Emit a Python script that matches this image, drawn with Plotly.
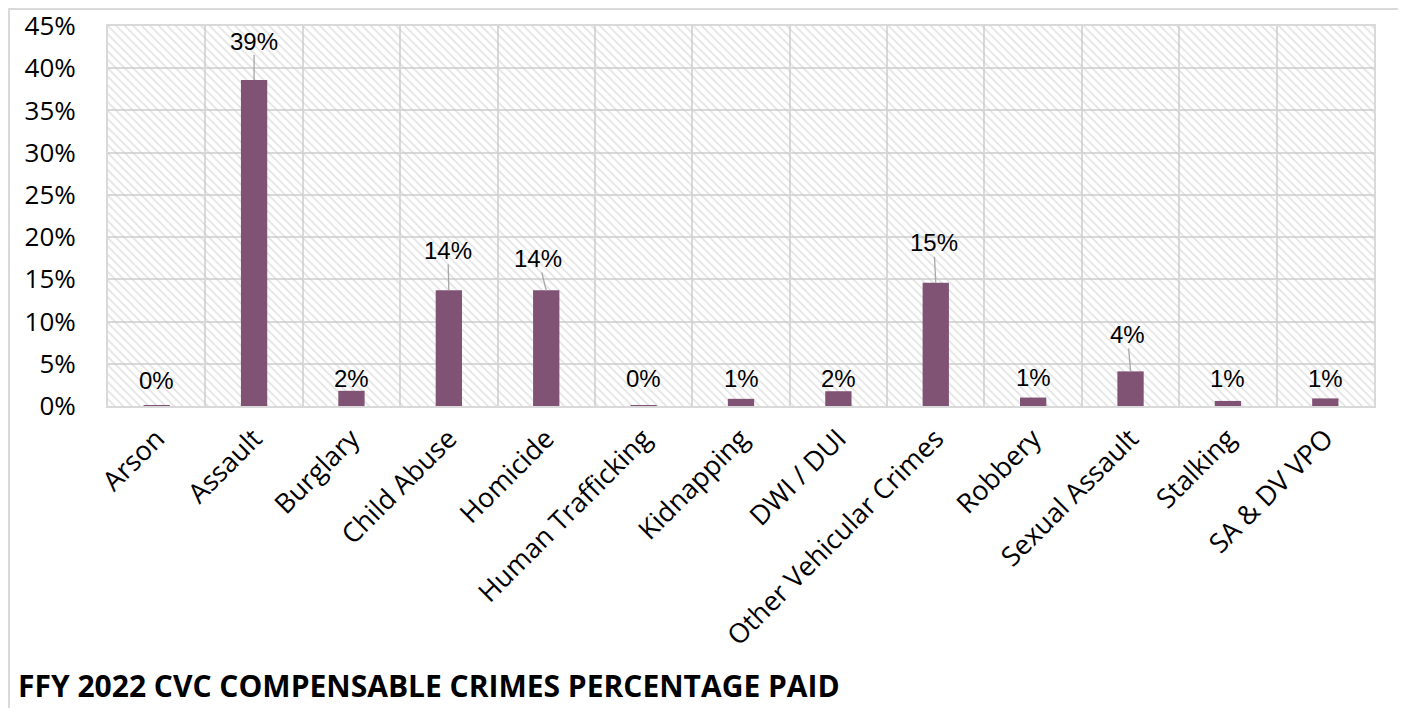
import plotly.graph_objects as go

categories = ["Arson", "Assault", "Burglary", "Child Abuse", "Homicide",
              "Human Trafficking", "Kidnapping", "DWI / DUI",
              "Other Vehicular Crimes", "Robbery", "Sexual Assault",
              "Stalking", "SA & DV VPO"]
percent_paid = [0.1, 38.6, 1.8, 13.7, 13.7, 0.02, 0.85, 1.75, 14.6, 1.0, 4.1, 0.6, 0.9]
y_ticks = [0, 5, 10, 15, 20, 25, 30, 35, 40, 45]

Y_MAX = y_ticks[-1]
BAR_COLOR = "#805274"
GRID = "#d9d9d9"
LABEL_FONT = dict(family="Liberation Sans", size=24, color="#000000")

# label placement (pixel offsets of label centre from bar top); True = leader line
label_style = {
    "Arson": (0, -25, False),
    "Assault": (0, -39, True),
    "Burglary": (0, -12, False),
    "Child Abuse": (-1, -40, True),
    "Homicide": (-8, -32, True),
    "Human Trafficking": (0, -27, False),
    "Kidnapping": (0, -20, False),
    "DWI / DUI": (0, -13, False),
    "Other Vehicular Crimes": (-2, -40, True),
    "Robbery": (0, -20, False),
    "Sexual Assault": (-3, -37, True),
    "Stalking": (0, -22, False),
    "SA & DV VPO": (0, -20, False),
}

fig = go.Figure()

# hatched plot background
fig.add_trace(go.Bar(
    x=categories, y=[Y_MAX] * len(categories), width=1.0,
    marker=dict(color="rgba(0,0,0,0)", line=dict(width=0),
                pattern=dict(shape="\\", fgcolor="#c8c8c8", bgcolor="rgba(0,0,0,0)",
                             size=6, solidity=0.3, fillmode="overlay")),
    hoverinfo="skip", showlegend=False,
))

fig.add_trace(go.Bar(
    x=categories, y=percent_paid, width=0.27,
    marker=dict(color=BAR_COLOR, line=dict(width=0)),
    showlegend=False,
))

for cat, v in zip(categories, percent_paid):
    dx, dy, leader = label_style[cat]
    txt = f"{round(v)}%"
    if leader:
        fig.add_annotation(x=cat, y=v, xref="x", yref="y", text=txt,
                           showarrow=True, arrowhead=0, arrowwidth=1.3,
                           arrowcolor="#a6a6a6", ax=dx, ay=dy, standoff=0,
                           font=LABEL_FONT, borderpad=0)
    else:
        fig.add_annotation(x=cat, y=v, xref="x", yref="y", text=txt,
                           showarrow=False, yanchor="middle", xshift=dx, yshift=-dy,
                           font=LABEL_FONT)

# chart title at bottom-left
fig.add_annotation(x=0, y=0, xref="paper", yref="paper", xanchor="left", yanchor="bottom",
                   xshift=-91, yshift=-301, borderpad=0,
                   text="<b>FFY 2022 CVC COMPENSABLE CRIMES PERCENTAGE PAID</b>",
                   showarrow=False,
                   font=dict(family="Open Sans", size=30, color="#000000"))

# outer chart border
fig.add_shape(type="rect", xref="paper", yref="paper",
              x0=-0.0782, x1=1.0221, y0=-0.95, y1=1.0447,
              line=dict(color=GRID, width=2), fillcolor="rgba(0,0,0,0)", layer="below")

fig.update_layout(
    width=1396, height=700,
    margin=dict(l=100, r=30, t=18, b=302, autoexpand=False),
    paper_bgcolor="white", plot_bgcolor="white",
    barmode="overlay",
    font=dict(family="Open Sans", color="#000000"),
    xaxis=dict(type="category", tickson="boundaries", showgrid=True, gridcolor=GRID,
               gridwidth=2, showline=True, linecolor=GRID, linewidth=2, mirror=True,
               tickangle=-45, ticks="", tickfont=dict(family="Open Sans", size=27),
               ticklabelstandoff=4, automargin=False),
    yaxis=dict(range=[0, Y_MAX], tickmode="array", tickvals=y_ticks,
               ticktext=[f"{t}%" for t in y_ticks], showgrid=True,
               gridcolor=GRID, gridwidth=2, showline=True, linecolor=GRID, linewidth=2,
               mirror=True, ticks="", tickfont=dict(family="Open Sans", size=26),
               ticklabelstandoff=25, ticklabeloverflow="allow", zeroline=False,
               automargin=False),
)

fig.write_html("out.html")
